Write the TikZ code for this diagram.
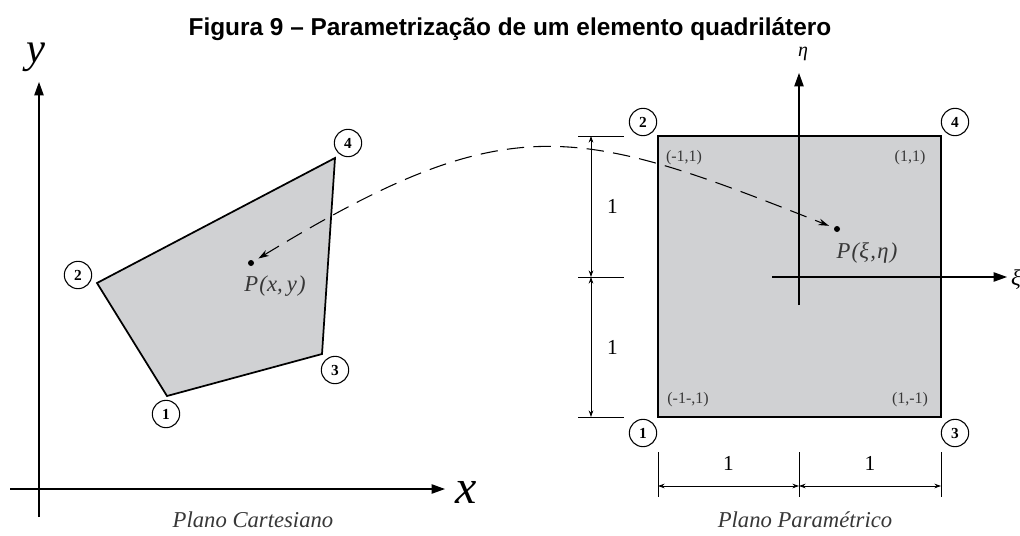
\documentclass[tikz,border=0pt]{standalone}
\usepackage{fontspec}
\setmainfont{Liberation Serif}
\newfontfamily\titlefont{Liberation Sans}
\usepackage{tikz}
\usetikzlibrary{arrows.meta}
\usepackage{xcolor}
\definecolor{elemgray}{RGB}{208,209,211}
\definecolor{inkgray}{RGB}{55,55,55}

\begin{document}
\begin{tikzpicture}[x=0.75pt, y=-0.75pt,
  axis/.style={line width=0.9pt, -{Triangle[length=10pt,width=7pt]}},
  edge/.style={line width=1.3pt},
  dimline/.style={line width=0.6pt},
  dimarrow/.style={line width=0.6pt, {Stealth[length=5pt,width=3.5pt]}-{Stealth[length=5pt,width=3.5pt]}},
  nodenum/.style={circle, draw, line width=0.8pt, minimum size=20.5pt, inner sep=0pt, fill=white, font=\bfseries\fontsize{11.5}{11.5}\selectfont},
  corner/.style={text=inkgray, font=\fontsize{12}{12}\selectfont},
  dimlabel/.style={font=\fontsize{16}{16}\selectfont},
  caption/.style={text=inkgray, font=\itshape\fontsize{17}{18}\selectfont},
  dot/.style={circle, fill, inner sep=0pt, minimum size=4.5pt}]
  \useasboundingbox (0,0) rectangle (1020,535);

  \node[anchor=base, font=\titlefont\bfseries\fontsize{18.3}{20}\selectfont] (title) at (510,36) {Figura 9 – Parametrização de um elemento quadrilátero};

  % plano cartesiano
  \coordinate (yB) at (39,517); \coordinate (yT) at (39,82);
  \coordinate (xL) at (10,489); \coordinate (xR) at (445,489);
  \draw[axis] (yB) -- (yT);
  \draw[axis] (xL) -- (xR);
  \node[font=\itshape\fontsize{32}{32}\selectfont] (ylab) at (36,57) {y};
  \node[font=\itshape\fontsize{36}{36}\selectfont] (xlab) at (466,492) {x};

  \coordinate (q1) at (167,396); \coordinate (q2) at (97,283);
  \coordinate (q3) at (322,354); \coordinate (q4) at (335,158);
  \filldraw[edge, fill=elemgray] (q1) -- (q3) -- (q4) -- (q2) -- cycle;
  \node[nodenum] (n1) at (166,414) {1};
  \node[nodenum] (n2) at (78,275) {2};
  \node[nodenum] (n3) at (335,370) {3};
  \node[nodenum] (n4) at (348,143) {4};
  \node[dot] (pxy) at (251,263) {};
  \node[text=inkgray, font=\itshape\fontsize{17}{17}\selectfont] (pxylab) at (275,286) {P\kern1pt(x,\kern3pt y\kern1pt)};
  \node[caption] (capl) at (253,520) {Plano Cartesiano};

  % plano parametrico
  \coordinate (s1) at (658,417); \coordinate (s2) at (658,136);
  \coordinate (s3) at (941,417); \coordinate (s4) at (941,136);
  \filldraw[line width=1.6pt, fill=elemgray] (s1) -- (s3) -- (s4) -- (s2) -- cycle;
  \coordinate (eB) at (799,305); \coordinate (eT) at (799,73);
  \coordinate (xiL) at (772,277); \coordinate (xiR) at (1007,277);
  \draw[axis] (eB) -- (eT);
  \draw[axis] (xiL) -- (xiR);
  \node[font=\itshape\fontsize{15}{15}\selectfont] (etalab) at (803,54) {η};
  \node[font=\itshape\fontsize{17}{17}\selectfont] (xilab) at (1016,280) {ξ};

  \node[nodenum] (m1) at (643,433) {1};
  \node[nodenum] (m2) at (643,122) {2};
  \node[nodenum] (m3) at (955,433) {3};
  \node[nodenum] (m4) at (955,122) {4};
  \node[corner] (c2) at (684,158) {(-1,1)};
  \node[corner] (c4) at (910,158) {(1,1)};
  \node[corner] (c1) at (688,400) {(-1-,1)};
  \node[corner] (c3) at (910,400) {(1,-1)};

  \node[dot] (pxi) at (837,229) {};
  \node[text=inkgray, font=\itshape\fontsize{17}{17}\selectfont] (pxilab) at (867,253) {P\kern1pt(ξ\kern1pt,\kern1pt η\kern1pt)};

  % cotas
  \foreach \yy/\nm in {136/dT,277/dM,417/dB}{
    \draw[dimline] (578,\yy) -- (624,\yy);
    \coordinate (\nm) at (591,\yy);
  }
  \draw[dimarrow] (dT) -- (dM) node[dimlabel, midway, xshift=16pt] {1};
  \draw[dimarrow] (dM) -- (dB) node[dimlabel, midway, xshift=16pt] {1};
  \foreach \xx/\nm in {658/hL,799/hM,941/hR}{
    \draw[dimline] (\xx,452) -- (\xx,497);
    \coordinate (\nm) at (\xx,486);
  }
  \draw[dimarrow] (hL) -- (hM) node[dimlabel, midway, yshift=17pt] {1};
  \draw[dimarrow] (hM) -- (hR) node[dimlabel, midway, yshift=17pt] {1};
  \node[caption] (capr) at (805,520) {Plano Paramétrico};

  % mapeamento
  \draw[line width=0.8pt, dash pattern=on 13pt off 7pt, {Stealth[length=8pt,width=5pt]}-{Stealth[length=8pt,width=5pt]}, shorten <=4pt, shorten >=4pt]
    (pxy) .. controls (509,106) and (575,125) .. (pxi);
\end{tikzpicture}
\end{document}
